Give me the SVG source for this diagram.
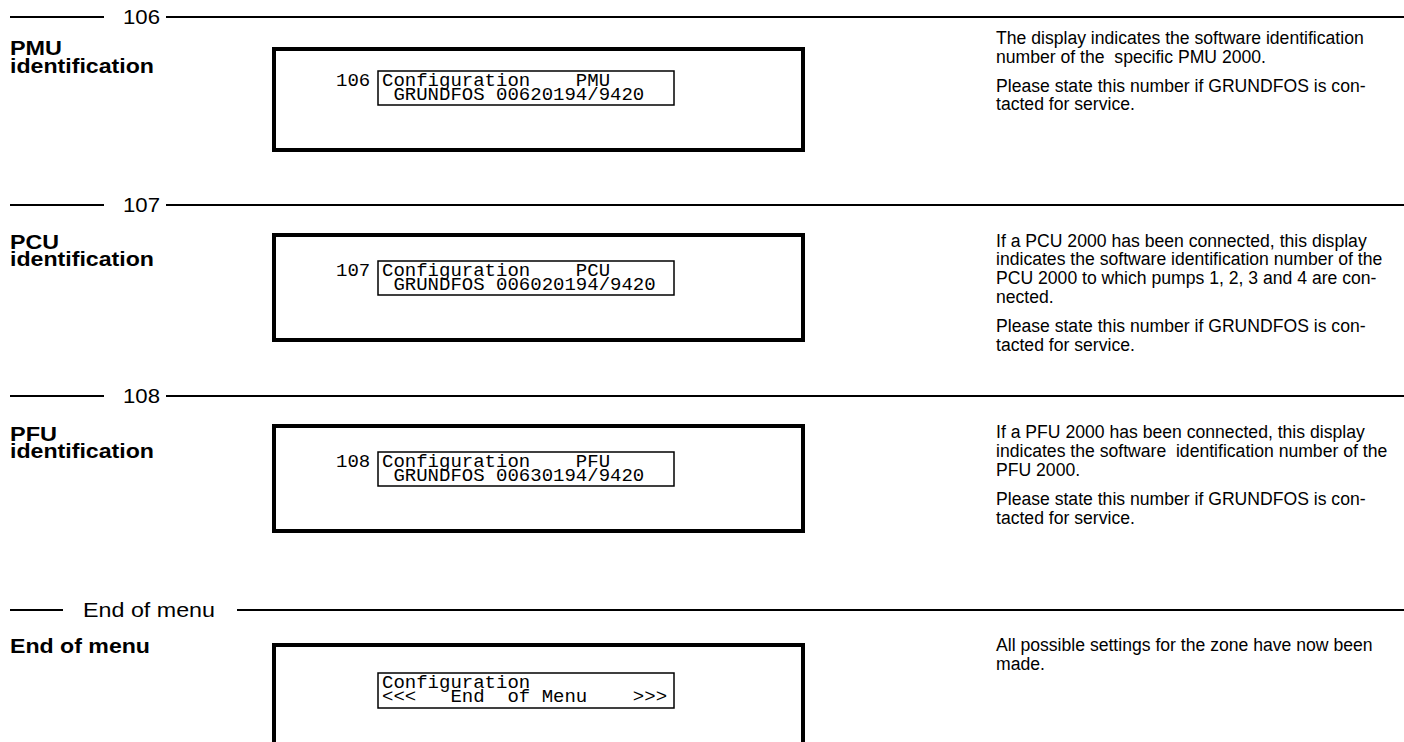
<svg xmlns="http://www.w3.org/2000/svg" width="1404" height="742" viewBox="0 0 1404 742">
<style>
text { font-family: "Liberation Sans", Arial, Helvetica, sans-serif; fill: #000; }
.hdr { font-size: 19.5px; }
.lbl { font-size: 19.5px; font-weight: bold; }
.body { font-size: 17.6px; white-space: pre; }
.lcd { font-family: "Liberation Mono", "Courier New", monospace; font-size: 19px; white-space: pre; }
.rule { stroke: #000; stroke-width: 2; fill: none; }
.outer { fill: none; stroke: #000; stroke-width: 4; }
.inner { fill: none; stroke: #000; stroke-width: 1.5; }
</style>
<rect width="1404" height="742" fill="#fff"/>

<g id="sec106">
  <line class="rule" x1="10" y1="17" x2="104" y2="17"/>
  <text class="hdr" x="123" y="24" textLength="37" lengthAdjust="spacingAndGlyphs">106</text>
  <line class="rule" x1="166" y1="17" x2="1404" y2="17"/>
  <text class="lbl" x="10" y="55" textLength="52" lengthAdjust="spacingAndGlyphs">PMU</text>
  <text class="lbl" x="10" y="73" textLength="144" lengthAdjust="spacingAndGlyphs">identification</text>
  <rect class="outer" x="274" y="49" width="529" height="101"/>
  <text class="lcd" x="336" y="86">106</text>
  <rect class="inner" x="378" y="71" width="296" height="34"/>
  <text class="lcd" xml:space="preserve" x="382" y="86">Configuration    PMU</text>
  <text class="lcd" xml:space="preserve" x="382" y="100"> GRUNDFOS 00620194/9420</text>
  <text class="body" xml:space="preserve" x="996" y="44">The display indicates the software identification</text>
  <text class="body" xml:space="preserve" x="996" y="63">number of the  specific PMU 2000.</text>
  <text class="body" x="996" y="92">Please state this number if GRUNDFOS is con-</text>
  <text class="body" x="996" y="110">tacted for service.</text>
</g>

<g id="sec107">
  <line class="rule" x1="10" y1="205" x2="104" y2="205"/>
  <text class="hdr" x="123" y="212" textLength="37" lengthAdjust="spacingAndGlyphs">107</text>
  <line class="rule" x1="166" y1="205" x2="1404" y2="205"/>
  <text class="lbl" x="10" y="249" textLength="49" lengthAdjust="spacingAndGlyphs">PCU</text>
  <text class="lbl" x="10" y="266" textLength="144" lengthAdjust="spacingAndGlyphs">identification</text>
  <rect class="outer" x="274" y="235" width="529" height="105"/>
  <text class="lcd" x="336" y="276">107</text>
  <rect class="inner" x="378" y="261" width="296" height="34"/>
  <text class="lcd" xml:space="preserve" x="382" y="276">Configuration    PCU</text>
  <text class="lcd" xml:space="preserve" x="382" y="290"> GRUNDFOS 006020194/9420</text>
  <text class="body" x="996" y="247">If a PCU 2000 has been connected, this display</text>
  <text class="body" x="996" y="265">indicates the software identification number of the</text>
  <text class="body" x="996" y="284">PCU 2000 to which pumps 1, 2, 3 and 4 are con-</text>
  <text class="body" x="996" y="303">nected.</text>
  <text class="body" x="996" y="332">Please state this number if GRUNDFOS is con-</text>
  <text class="body" x="996" y="351">tacted for service.</text>
</g>

<g id="sec108">
  <line class="rule" x1="10" y1="396" x2="104" y2="396"/>
  <text class="hdr" x="123" y="403" textLength="37" lengthAdjust="spacingAndGlyphs">108</text>
  <line class="rule" x1="166" y1="396" x2="1404" y2="396"/>
  <text class="lbl" x="10" y="441" textLength="47" lengthAdjust="spacingAndGlyphs">PFU</text>
  <text class="lbl" x="10" y="458" textLength="144" lengthAdjust="spacingAndGlyphs">identification</text>
  <rect class="outer" x="274" y="426" width="529" height="105"/>
  <text class="lcd" x="336" y="467">108</text>
  <rect class="inner" x="378" y="452" width="296" height="34"/>
  <text class="lcd" xml:space="preserve" x="382" y="467">Configuration    PFU</text>
  <text class="lcd" xml:space="preserve" x="382" y="481"> GRUNDFOS 00630194/9420</text>
  <text class="body" x="996" y="438">If a PFU 2000 has been connected, this display</text>
  <text class="body" xml:space="preserve" x="996" y="457">indicates the software  identification number of the</text>
  <text class="body" x="996" y="476">PFU 2000.</text>
  <text class="body" x="996" y="505">Please state this number if GRUNDFOS is con-</text>
  <text class="body" x="996" y="524">tacted for service.</text>
</g>

<g id="secEnd">
  <line class="rule" x1="10" y1="610" x2="63" y2="610"/>
  <text class="hdr" x="83" y="617" textLength="132" lengthAdjust="spacingAndGlyphs">End of menu</text>
  <line class="rule" x1="237" y1="610" x2="1404" y2="610"/>
  <text class="lbl" x="10" y="653" textLength="140" lengthAdjust="spacingAndGlyphs">End of menu</text>
  <path class="outer" d="M274,746 V645 H803 V746"/>
  <rect class="inner" x="378" y="673" width="296" height="35"/>
  <text class="lcd" xml:space="preserve" x="382" y="688">Configuration</text>
  <text class="lcd" xml:space="preserve" x="382" y="702">&lt;&lt;&lt;   End  of Menu    &gt;&gt;&gt;</text>
  <text class="body" x="996" y="651">All possible settings for the zone have now been</text>
  <text class="body" x="996" y="670">made.</text>
</g>
</svg>
